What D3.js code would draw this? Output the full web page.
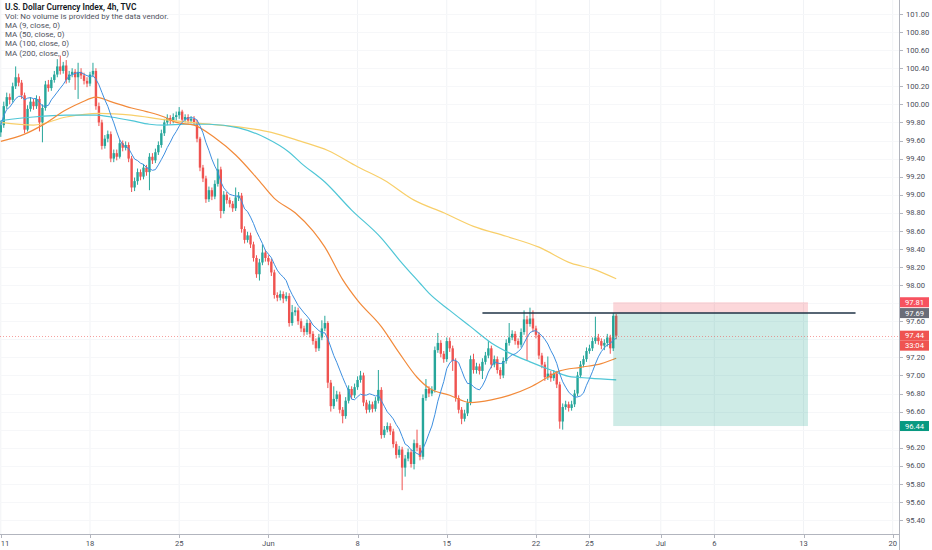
<!DOCTYPE html>
<html>
<head>
<meta charset="utf-8">
<script src="https://cdn.jsdelivr.net/npm/d3@7"></script>
<style>
  html, body { margin: 0; padding: 0; background: #fff; }
  svg { display: block; font-family: Roboto, "Noto Sans", sans-serif; }
</style>
</head>
<body>
<div id="container"></div>
<script>
// 4h bars, index 0 = 11 May
const opens = [99.69,99.77,99.98,100.08,100.05,100.20,100.30,100.24,100.10,99.72,
99.95,100.03,99.98,100.06,99.80,99.96,100.22,100.18,100.27,100.33,
100.42,100.37,100.43,100.27,100.33,100.36,100.30,100.36,100.32,100.26,
100.23,100.33,100.37,99.98,99.80,99.54,99.62,99.67,99.40,99.46,
99.42,99.57,99.52,99.55,99.40,99.08,99.15,99.25,99.20,99.30,
99.25,99.42,99.38,99.47,99.55,99.68,99.80,99.85,99.82,99.86,
99.88,99.92,99.83,99.86,99.82,99.84,99.80,99.62,99.30,99.18,
98.95,99.05,98.98,99.12,99.28,98.82,99.00,98.94,98.90,98.85,
98.97,98.99,98.62,98.50,98.55,98.45,98.30,98.12,98.25,98.36,
98.30,98.26,98.14,97.89,97.86,97.90,97.85,97.88,97.58,97.70,
97.72,97.60,97.52,97.48,97.58,97.46,97.38,97.30,97.42,97.52,
97.58,96.92,96.66,96.74,96.79,96.62,96.55,96.72,96.85,96.78,
96.87,96.95,97.00,96.70,96.62,96.68,96.63,96.72,96.84,96.34,
96.40,96.44,96.38,96.24,96.12,96.18,95.98,96.08,96.15,96.02,
96.25,96.20,96.10,96.75,96.85,96.80,96.84,97.28,97.36,97.24,
97.18,97.38,97.30,97.16,96.75,96.62,96.52,96.58,96.70,97.18,
97.06,97.10,97.05,97.15,97.22,97.30,97.12,97.18,97.06,97.00,
97.16,97.36,97.42,97.46,97.38,97.34,97.48,97.62,97.57,97.63,
97.52,97.45,97.22,97.12,96.98,97.02,96.97,97.02,96.90,96.49,
96.65,96.68,96.64,96.68,96.80,97.00,97.12,97.18,97.27,97.30,
97.38,97.42,97.38,97.33,97.36,97.42,97.30,97.66];

const highs = [99.82,100.03,100.13,100.12,100.24,100.42,100.34,100.27,100.13,99.99,
100.08,100.06,100.10,100.09,100.00,100.26,100.27,100.30,100.37,100.50,
100.54,100.47,100.49,100.37,100.40,100.39,100.46,100.40,100.35,100.30,
100.36,100.46,100.40,100.02,99.83,99.66,99.71,99.70,99.50,99.50,
99.61,99.60,99.59,99.58,99.43,99.19,99.29,99.28,99.34,99.33,
99.46,99.46,99.51,99.59,99.72,99.84,99.89,99.88,99.90,99.92,
99.97,99.94,99.89,99.89,99.87,99.87,99.83,99.64,99.33,99.21,
99.09,99.08,99.16,99.40,99.31,99.04,99.03,98.97,98.93,99.08,
99.03,99.02,98.65,98.59,98.58,98.48,98.33,98.29,98.45,98.39,
98.33,98.29,98.17,97.92,97.94,97.93,97.92,97.91,97.78,97.76,
97.75,97.63,97.55,97.62,97.61,97.49,97.41,97.46,97.61,97.66,
97.60,96.95,96.88,96.83,96.82,96.65,96.76,96.89,96.88,96.91,
96.99,97.05,97.03,96.73,96.72,96.71,96.76,97.06,96.87,96.44,
96.48,96.47,96.41,96.27,96.22,96.21,96.12,96.19,96.18,96.29,
96.40,96.23,96.79,96.96,96.88,96.88,97.32,97.47,97.39,97.27,
97.42,97.42,97.33,97.19,96.78,96.65,96.62,96.74,97.22,97.24,
97.14,97.13,97.19,97.26,97.38,97.33,97.22,97.21,97.09,97.20,
97.40,97.58,97.50,97.49,97.41,97.52,97.72,97.66,97.75,97.72,
97.55,97.48,97.25,97.15,97.21,97.05,97.06,97.05,96.93,96.69,
96.72,96.71,96.72,96.84,97.04,97.16,97.22,97.31,97.34,97.42,
97.65,97.46,97.41,97.40,97.46,97.45,97.69,97.68];

const lows = [99.64,99.74,99.95,100.00,100.02,100.17,100.20,100.06,99.68,99.70,
99.92,99.94,99.95,99.70,99.58,99.93,100.14,100.15,100.24,100.30,
100.33,100.34,100.23,100.24,100.30,100.16,100.06,100.28,100.22,100.19,
100.20,100.30,99.94,99.76,99.50,99.51,99.58,99.36,99.36,99.38,
99.40,99.48,99.49,99.36,99.03,99.04,99.11,99.16,99.17,99.21,
99.05,99.34,99.35,99.44,99.52,99.65,99.77,99.78,99.79,99.82,
99.84,99.80,99.80,99.79,99.79,99.77,99.58,99.26,99.14,98.91,
98.92,98.94,98.95,99.09,98.74,98.79,98.90,98.86,98.81,98.82,
98.93,98.58,98.46,98.47,98.41,98.26,98.08,98.05,98.22,98.26,
98.22,98.10,97.85,97.82,97.83,97.80,97.82,97.54,97.55,97.66,
97.56,97.48,97.44,97.45,97.42,97.34,97.26,97.27,97.39,97.49,
96.86,96.60,96.63,96.71,96.58,96.47,96.52,96.69,96.74,96.75,
96.84,96.92,96.66,96.58,96.59,96.59,96.60,96.69,96.30,96.31,
96.37,96.34,96.20,96.08,96.09,95.73,95.88,96.05,95.98,95.96,
96.16,96.06,96.07,96.72,96.76,96.77,96.81,97.25,97.20,97.14,
97.15,97.26,97.05,96.71,96.58,96.46,96.49,96.55,96.67,97.02,
97.02,97.01,96.96,97.12,97.19,97.08,97.09,97.02,96.96,96.97,
97.13,97.33,97.39,97.34,97.30,97.31,97.45,97.17,97.54,97.48,
97.41,97.18,97.08,96.94,96.95,96.93,96.94,96.86,96.41,96.40,
96.62,96.60,96.61,96.65,96.77,96.97,97.09,97.15,97.24,97.27,
97.35,97.34,97.29,97.28,97.32,97.24,97.27,97.40];

const closes = [99.77,99.98,100.08,100.05,100.20,100.30,100.24,100.10,99.72,99.95,
100.03,99.98,100.06,99.80,99.96,100.22,100.18,100.27,100.33,100.42,
100.37,100.43,100.27,100.33,100.36,100.30,100.36,100.32,100.26,100.23,
100.33,100.37,99.98,99.80,99.54,99.62,99.67,99.40,99.46,99.42,
99.57,99.52,99.55,99.40,99.08,99.15,99.25,99.20,99.30,99.25,
99.42,99.38,99.47,99.55,99.68,99.80,99.85,99.82,99.86,99.88,
99.92,99.83,99.86,99.82,99.84,99.80,99.62,99.30,99.18,98.95,
99.05,98.98,99.12,99.28,98.82,99.00,98.94,98.90,98.85,98.97,
98.99,98.62,98.50,98.55,98.45,98.30,98.12,98.25,98.36,98.30,
98.26,98.14,97.89,97.86,97.90,97.85,97.88,97.58,97.70,97.72,
97.60,97.52,97.48,97.58,97.46,97.38,97.30,97.42,97.52,97.58,
96.92,96.66,96.74,96.79,96.62,96.55,96.72,96.85,96.78,96.87,
96.95,97.00,96.70,96.62,96.68,96.63,96.72,96.84,96.34,96.40,
96.44,96.38,96.24,96.12,96.18,95.98,96.08,96.15,96.02,96.25,
96.20,96.10,96.75,96.85,96.80,96.84,97.28,97.36,97.24,97.18,
97.38,97.30,97.16,96.75,96.62,96.52,96.58,96.70,97.18,97.06,
97.10,97.05,97.15,97.22,97.30,97.12,97.18,97.06,97.00,97.16,
97.36,97.42,97.46,97.38,97.34,97.48,97.62,97.57,97.63,97.52,
97.45,97.22,97.12,96.98,97.02,96.97,97.02,96.90,96.49,96.65,
96.68,96.64,96.68,96.80,97.00,97.12,97.18,97.27,97.30,97.38,
97.42,97.38,97.33,97.36,97.42,97.30,97.66,97.44];

// slower moving averages at some bars: [bar, value]
const ma50 = [[0,99.59],[8,99.67],[14,99.77],[22,99.94],[27,100.02],[32,100.08],[37,100.03],
  [44,99.96],[49,99.92],[55,99.86],[59,99.80],[65,99.77],[72,99.63],[79,99.44],[86,99.19],
  [92,98.96],[99,98.80],[105,98.60],[109,98.42],[115,98.06],[120,97.83],[128,97.54],
  [134,97.25],[140,96.98],[144,96.86],[151,96.78],[158,96.70],[165,96.73],[171,96.78],
  [178,96.87],[184,96.98],[188,97.05],[195,97.09],[202,97.13],[207,97.19]];
const ma100 = [[0,99.82],[11,99.86],[22,99.88],[32,99.88],[37,99.86],[44,99.82],[50,99.78],
  [55,99.77],[62,99.78],[70,99.78],[80,99.74],[89,99.63],[97,99.47],[101,99.35],[109,99.14],
  [118,98.83],[128,98.52],[134,98.28],[141,98.02],[144,97.91],[151,97.72],[158,97.54],
  [165,97.36],[171,97.25],[178,97.15],[185,97.06],[191,96.99],[198,96.97],[207,96.95]];
const ma200 = [[0,99.80],[11,99.77],[22,99.86],[33,99.90],[44,99.88],[55,99.83],[67,99.79],
  [80,99.75],[91,99.69],[101,99.59],[110,99.49],[120,99.31],[129,99.16],[139,98.94],
  [149,98.80],[159,98.65],[170,98.54],[181,98.42],[192,98.24],[199,98.18],[207,98.07]];

// axis ticks
const priceTicks = [95.4,95.6,95.8,96.0,96.2,96.4,96.6,96.8,97.0,97.2,97.4,97.6,97.8,98.0,
  98.2,98.4,98.6,98.8,99.0,99.2,99.4,99.6,99.8,100.0,100.2,100.4,100.6,100.8,101.0];
const dateTickBars = [0,30,60,90,120,150,180,198,222,240,270,300];
const dateTickLabels = ["11","18","25","Jun","8","15","22","25","Jul","6","13","20"];

// short position tool + level line
const position = { startBar: 206, endBar: 271.5, stop: 97.81, entry: 97.69, target: 96.44 };
const levelLine = { fromBar: 162, toBar: 287.5, price: 97.69 };
const lastPrice = 97.44;
const countdown = "33:04";

const legend = [
  "U.S. Dollar Currency Index, 4h, TVC",
  "Vol: No volume is provided by the data vendor.",
  "MA (9, close, 0)",
  "MA (50, close, 0)",
  "MA (100, close, 0)",
  "MA (200, close, 0)"
];

const W = 932, H = 550;
const axisX = 899, axisY = 534;
const UP = "#26a69a", DOWN = "#ef5350";

const svg = d3.select("#container").append("svg")
  .attr("width", W).attr("height", H);

const x = d3.scaleLinear().domain([0, 300]).range([0.8, 892.7]);
const y = d3.scaleLinear().domain([95.4, 101]).range([520, 14]);

svg.append("defs").append("clipPath").attr("id", "plot")
  .append("rect").attr("x", 0).attr("y", 0).attr("width", axisX).attr("height", axisY);

// grid
const grid = svg.append("g");
grid.selectAll(".vg").data(dateTickBars).join("line")
  .attr("x1", d => x(d)).attr("x2", d => x(d))
  .attr("y1", 0).attr("y2", axisY)
  .attr("stroke", "#f1f3f6").attr("stroke-width", 1);
grid.selectAll(".hg").data(priceTicks).join("line")
  .attr("x1", 0).attr("x2", axisX)
  .attr("y1", d => Math.round(y(d)) + 0.5).attr("y2", d => Math.round(y(d)) + 0.5)
  .attr("stroke", "#f6f7f9").attr("stroke-width", 1);

const plot = svg.append("g").attr("clip-path", "url(#plot)");

// candles
const n = Math.min(opens.length, highs.length, lows.length, closes.length);
const bars = d3.range(n).map(i => ({ i, o: opens[i], h: highs[i], l: lows[i], c: closes[i] }));
const bw = 2.4;

plot.append("g").selectAll("line").data(bars).join("line")
  .attr("x1", d => x(d.i)).attr("x2", d => x(d.i))
  .attr("y1", d => y(d.h)).attr("y2", d => y(d.l))
  .attr("stroke", d => d.c >= d.o ? UP : DOWN).attr("stroke-width", 1);

plot.append("g").selectAll("rect").data(bars).join("rect")
  .attr("x", d => x(d.i) - bw / 2)
  .attr("y", d => y(Math.max(d.o, d.c)))
  .attr("width", bw)
  .attr("height", d => Math.max(1, Math.abs(y(d.o) - y(d.c))))
  .attr("fill", d => d.c >= d.o ? UP : DOWN);

// moving averages
const ma9 = bars.map(d => {
  const w = closes.slice(Math.max(0, d.i - 8), d.i + 1);
  return [d.i, d3.mean(w)];
});
const smooth = d3.line().x(d => x(d[0])).y(d => y(d[1])).curve(d3.curveMonotoneX);
const straight = d3.line().x(d => x(d[0])).y(d => y(d[1]));

plot.append("path").datum(ma200).attr("d", smooth)
  .attr("fill", "none").attr("stroke", "#f8cf6a").attr("stroke-width", 1.2);
plot.append("path").datum(ma100).attr("d", smooth)
  .attr("fill", "none").attr("stroke", "#4fc6d6").attr("stroke-width", 1.2);
plot.append("path").datum(ma50).attr("d", smooth)
  .attr("fill", "none").attr("stroke", "#f28a3a").attr("stroke-width", 1.2);
plot.append("path").datum(ma9).attr("d", straight)
  .attr("fill", "none").attr("stroke", "#3d8fe0").attr("stroke-width", 1);

// position tool
plot.append("rect")
  .attr("x", x(position.startBar)).attr("width", x(position.endBar) - x(position.startBar))
  .attr("y", y(position.stop)).attr("height", y(position.entry) - y(position.stop))
  .attr("fill", "rgba(242,54,69,0.2)");
plot.append("rect")
  .attr("x", x(position.startBar)).attr("width", x(position.endBar) - x(position.startBar))
  .attr("y", y(position.entry)).attr("height", y(position.target) - y(position.entry))
  .attr("fill", "rgba(8,153,129,0.2)");

// last price line
plot.append("line")
  .attr("x1", 0).attr("x2", axisX)
  .attr("y1", Math.round(y(lastPrice)) + 0.5).attr("y2", Math.round(y(lastPrice)) + 0.5)
  .attr("stroke", "rgba(239,83,80,0.55)").attr("stroke-width", 1)
  .attr("stroke-dasharray", "1,2");

// horizontal level
plot.append("line")
  .attr("x1", x(levelLine.fromBar)).attr("x2", x(levelLine.toBar))
  .attr("y1", y(levelLine.price)).attr("y2", y(levelLine.price))
  .attr("stroke", "#1f3346").attr("stroke-width", 1.5);

// axes
svg.append("line").attr("x1", 0).attr("x2", axisX)
  .attr("y1", axisY + 0.5).attr("y2", axisY + 0.5)
  .attr("stroke", "#b2b5be").attr("stroke-width", 1);
svg.append("line").attr("x1", axisX + 0.5).attr("x2", axisX + 0.5)
  .attr("y1", 0).attr("y2", H)
  .attr("stroke", "#b2b5be").attr("stroke-width", 1);

// badges sit on the axis; tick labels under them are hidden
const badgePrices = [position.stop, levelLine.price, lastPrice, position.target];
const covered = d => badgePrices.some(p => Math.abs(y(p) - y(d)) < 8) ||
  Math.abs(y(lastPrice) + 10 - y(d)) < 8;

const pt = svg.append("g");
pt.selectAll("line").data(priceTicks).join("line")
  .attr("x1", axisX).attr("x2", axisX + 4)
  .attr("y1", d => Math.round(y(d)) + 0.5).attr("y2", d => Math.round(y(d)) + 0.5)
  .attr("stroke", "#b2b5be");
pt.selectAll("text").data(priceTicks.filter(d => !covered(d))).join("text")
  .attr("x", axisX + 7).attr("y", d => y(d))
  .attr("dy", "0.35em")
  .attr("font-size", 7.6).attr("fill", "#4a4e59")
  .text(d => d3.format(".2f")(d));

const dt = svg.append("g");
dt.selectAll("line").data(dateTickBars).join("line")
  .attr("x1", d => Math.round(x(d)) + 0.5).attr("x2", d => Math.round(x(d)) + 0.5)
  .attr("y1", axisY).attr("y2", axisY + 4)
  .attr("stroke", "#b2b5be");
dt.selectAll("text").data(dateTickBars).join("text")
  .attr("x", d => Math.max(5, x(d))).attr("y", 546)
  .attr("text-anchor", "middle")
  .attr("font-size", 7.6).attr("fill", "#4a4e59")
  .text((d, k) => dateTickLabels[k]);

// price badges
function badge(price, color, label, dy) {
  const cy = y(price) + (dy || 0);
  svg.append("rect").attr("x", axisX + 1).attr("y", cy - 5)
    .attr("width", 29).attr("height", 10).attr("fill", color);
  svg.append("text").attr("x", axisX + 6).attr("y", cy).attr("dy", "0.35em")
    .attr("font-size", 7.6).attr("fill", "#fff").text(label);
}
badge(position.stop, "#f7525f", position.stop.toFixed(2));
badge(levelLine.price, "#6a6d78", levelLine.price.toFixed(2));
badge(lastPrice, "#ef5350", lastPrice.toFixed(2));
badge(lastPrice, "#ef5350", countdown, 10);
badge(position.target, "#089981", position.target.toFixed(2));

// legend
svg.append("g").selectAll("text").data(legend).join("text")
  .attr("x", 5).attr("y", (d, k) => 10 + k * 9.1)
  .attr("font-size", (d, k) => k === 0 ? 8.4 : 8)
  .attr("font-weight", (d, k) => k === 0 ? 600 : 400)
  .attr("fill", (d, k) => k === 0 ? "#131722" : "#50535e")
  .text(d => d);
</script>
</body>
</html>
